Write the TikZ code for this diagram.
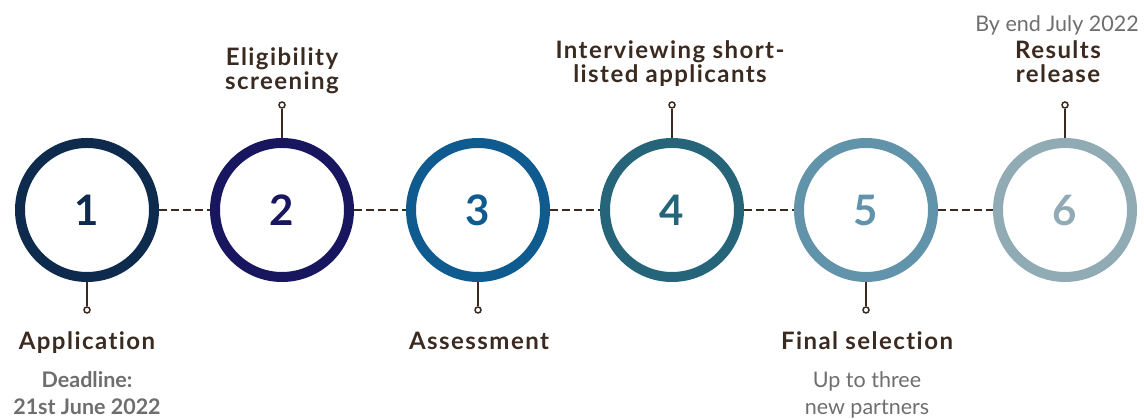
\documentclass[tikz,border=0pt]{standalone}
\usepackage{fontspec}
\setmainfont[Ligatures=NoCommon]{Lato}
\definecolor{stepone}{HTML}{0E2A4D}
\definecolor{steptwo}{HTML}{17165F}
\definecolor{stepthree}{HTML}{0F5A8E}
\definecolor{stepfour}{HTML}{256479}
\definecolor{stepfive}{HTML}{6193AB}
\definecolor{stepsix}{HTML}{91ABB5}
\definecolor{labelbrown}{HTML}{3B2A20}
\definecolor{notegray}{HTML}{6E6E6E}
\tikzset{
  ring/.style={circle,draw=#1,line width=10pt,minimum size=134pt,inner sep=0pt,
    text=#1,font=\bfseries\fontsize{42}{42}\selectfont},
  link/.style={draw=labelbrown,line width=2pt,dash pattern=on 8pt off 4pt},
  stem/.style={draw=labelbrown,line width=1.5pt},
  pin/.style={circle,draw=labelbrown,line width=1.5pt,minimum size=6pt,inner sep=0pt},
  title/.style={text=labelbrown,align=center,anchor=base,
    font=\addfontfeatures{LetterSpace=6}\bfseries\fontsize{24}{24}\selectfont},
  note/.style={text=notegray,align=center,anchor=base,font=\fontsize{21.5}{27}\selectfont}
}
\begin{document}
\begin{tikzpicture}[x=1pt,y=1pt]
  \useasboundingbox (0,0) rectangle (1144,419);
  % the six steps
  \node[ring=stepone]   (s1) at (87,209)  {1};
  \node[ring=steptwo]   (s2) at (282,209) {2};
  \node[ring=stepthree] (s3) at (478,209) {3};
  \node[ring=stepfour]  (s4) at (672,209) {4};
  \node[ring=stepfive]  (s5) at (866,209) {5};
  \node[ring=stepsix]   (s6) at (1065,209) {6};
  \foreach \a/\b in {s1/s2,s2/s3,s3/s4,s4/s5,s5/s6}
    \draw[link] (\a.east) -- (\b.west);
  % pins below
  \foreach \s in {s1,s3,s5} {
    \node[pin] (\s p) at ([yshift=-28pt]\s.south) {};
    \draw[stem] (\s.south) -- (\s p.north);
  }
  % pins above
  \foreach \s in {s2,s4,s6} {
    \node[pin] (\s p) at ([yshift=33pt]\s.north) {};
    \draw[stem] (\s.north) -- (\s p.south);
  }
  % labels (base = last line)
  \node[title] (t1) at (87,69) {Application};
  \node[note,font=\bfseries\fontsize{21.5}{27}\selectfont] (n1) at (87,4) {Deadline:\\21st June 2022};
  \node[title] (t2) at (282,329) {Eligibility\\screening};
  \node[title] (t3) at (479,69) {Assessment};
  \node[title] (t4) at (670,336) {Interviewing short-\\listed applicants};
  \node[title] (t5) at (867,69) {Final selection};
  \node[note] (n5) at (867,4) {Up to three\\new partners};
  \node[note] (n6) at (1057,387) {By end July 2022};
  \node[title] (t6) at (1058,336) {Results\\release};
\end{tikzpicture}
\end{document}
